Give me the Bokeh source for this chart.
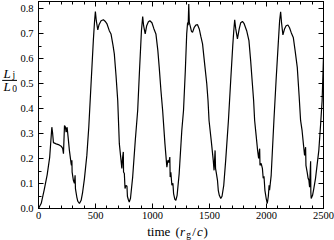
from bokeh.plotting import figure
from bokeh.layouts import row, column
from bokeh.models import (Range1d, SingleIntervalTicker, LinearAxis, PrintfTickFormatter,
                          Label, Arrow)
from bokeh.embed import file_html
from bokeh.resources import INLINE

# ---- data ----
time = [0, 24, 50, 76, 98, 117, 124, 131, 155, 181, 199, 212, 219, 228, 236, 242, 251, 260, 271,
        286, 289, 293, 295, 306, 315, 321, 324, 336, 345, 359, 374, 387, 403, 424, 441, 461, 481,
        492, 499, 507, 520, 531, 549, 569, 584, 601, 621, 636, 654, 665, 680, 695, 709, 724, 731,
        737, 744, 746, 753, 759, 767, 776, 780, 787, 796, 807, 826, 849, 870, 886, 903, 914, 922,
        936, 949, 964, 977, 995, 1012, 1030, 1047, 1059, 1074, 1089, 1109, 1126, 1135, 1144, 1152,
        1155, 1161, 1170, 1179, 1185, 1196, 1205, 1216, 1234, 1257, 1272, 1288, 1300, 1308, 1313,
        1318, 1323, 1330, 1342, 1351, 1365, 1380, 1395, 1410, 1424, 1439, 1459, 1476, 1487, 1496,
        1515, 1533, 1540, 1549, 1553, 1559, 1570, 1577, 1586, 1599, 1610, 1625, 1642, 1666, 1686,
        1704, 1713, 1721, 1730, 1745, 1761, 1774, 1789, 1804, 1826, 1846, 1861, 1876, 1887, 1896,
        1909, 1922, 1931, 1940, 1943, 1953, 1964, 1971, 1978, 1986, 1997, 2007, 2016, 2023, 2027,
        2041, 2065, 2084, 2102, 2115, 2124, 2132, 2144, 2159, 2172, 2188, 2202, 2217, 2235, 2251,
        2270, 2286, 2299, 2312, 2325, 2334, 2343, 2346, 2357, 2365, 2372, 2378, 2387, 2389, 2392,
        2404, 2415, 2430, 2459, 2474, 2488, 2500]
lj_l0 = [0.0, 0.021, 0.075, 0.135, 0.205, 0.326, 0.301, 0.264, 0.259, 0.255, 0.250, 0.241, 0.220,
         0.333, 0.327, 0.306, 0.326, 0.285, 0.233, 0.180, 0.173, 0.193, 0.146, 0.113, 0.101, 0.133,
         0.080, 0.046, 0.029, 0.020, 0.033, 0.065, 0.120, 0.213, 0.326, 0.500, 0.673, 0.753, 0.790,
         0.753, 0.716, 0.737, 0.753, 0.757, 0.751, 0.740, 0.713, 0.700, 0.653, 0.620, 0.533, 0.433,
         0.260, 0.193, 0.161, 0.201, 0.227, 0.146, 0.140, 0.080, 0.093, 0.089, 0.049, 0.037, 0.026,
         0.041, 0.126, 0.273, 0.393, 0.553, 0.713, 0.770, 0.733, 0.700, 0.733, 0.749, 0.753, 0.745,
         0.721, 0.700, 0.633, 0.566, 0.473, 0.393, 0.260, 0.166, 0.193, 0.185, 0.206, 0.126, 0.145,
         0.093, 0.101, 0.060, 0.037, 0.033, 0.053, 0.140, 0.313, 0.393, 0.553, 0.700, 0.746, 0.735,
         0.820, 0.745, 0.733, 0.710, 0.706, 0.725, 0.735, 0.737, 0.720, 0.690, 0.660, 0.573, 0.500,
         0.433, 0.353, 0.273, 0.193, 0.153, 0.233, 0.161, 0.145, 0.113, 0.073, 0.053, 0.040, 0.049,
         0.093, 0.193, 0.353, 0.513, 0.653, 0.713, 0.757, 0.721, 0.680, 0.721, 0.745, 0.750, 0.741,
         0.713, 0.673, 0.593, 0.500, 0.433, 0.353, 0.293, 0.233, 0.201, 0.240, 0.173, 0.181, 0.161,
         0.121, 0.129, 0.073, 0.041, 0.020, 0.049, 0.093, 0.073, 0.133, 0.353, 0.513, 0.653, 0.753,
         0.789, 0.745, 0.696, 0.721, 0.733, 0.736, 0.725, 0.705, 0.686, 0.633, 0.566, 0.453, 0.353,
         0.313, 0.253, 0.213, 0.246, 0.173, 0.145, 0.121, 0.113, 0.085, 0.189, 0.065, 0.040, 0.053,
         0.080, 0.121, 0.233, 0.333, 0.433, 0.609]

x_major = 500
x_minor_per_major = 5
y_major = 0.1
y_minor_per_major = 2
x_limits = (0, 2500)
y_limits = (0, 0.83)

FONT = "Liberation Serif"

LEFT_W = 17
MAIN_H = 223
BOTTOM_H = 240 - MAIN_H

p = figure(width=334 - LEFT_W, height=MAIN_H, output_backend="svg", toolbar_location=None,
           x_range=Range1d(*x_limits), y_range=Range1d(*y_limits),
           min_border_left=37 - LEFT_W, min_border_right=11, min_border_top=1,
           min_border_bottom=MAIN_H - 208,
           background_fill_color="white", border_fill_color="white")

p.line(time, lj_l0, line_color="black", line_width=1.2)

p.xgrid.visible = False
p.ygrid.visible = False
p.outline_line_color = "black"
p.outline_line_width = 1


def style_axis(ax, show_labels):
    ax.axis_line_color = "black"
    ax.axis_line_width = 1
    ax.major_tick_in = 5
    ax.major_tick_out = 0
    ax.minor_tick_in = 3
    ax.minor_tick_out = 0
    ax.major_tick_line_color = "black"
    ax.minor_tick_line_color = "black"
    if show_labels:
        ax.major_label_text_font = FONT
        ax.major_label_text_font_size = "10.5px"
        ax.major_label_text_color = "black"
        ax.major_label_standoff = 5
    else:
        ax.major_label_text_font_size = "1px"
        ax.major_label_text_color = None
        ax.major_label_standoff = 0


p.xaxis.ticker = SingleIntervalTicker(interval=x_major, num_minor_ticks=x_minor_per_major)
p.yaxis.ticker = SingleIntervalTicker(interval=y_major, num_minor_ticks=y_minor_per_major)
p.yaxis.formatter = PrintfTickFormatter(format="%.1f")
style_axis(p.xaxis[0], True)
style_axis(p.yaxis[0], True)
p.xaxis[0].major_label_standoff = 3

top = LinearAxis(ticker=SingleIntervalTicker(interval=x_major, num_minor_ticks=x_minor_per_major))
right = LinearAxis(ticker=SingleIntervalTicker(interval=y_major, num_minor_ticks=y_minor_per_major))
style_axis(top, False)
style_axis(right, False)
p.add_layout(top, "above")
p.add_layout(right, "right")


def label_panel(w, h):
    f = figure(width=w, height=h, output_backend="svg", toolbar_location=None,
               x_range=Range1d(0, w), y_range=Range1d(h, 0),
               x_axis_type=None, y_axis_type=None, min_border=0,
               background_fill_color="white", border_fill_color="white")
    f.outline_line_color = None
    f.xgrid.visible = False
    f.ygrid.visible = False
    return f


def lab(f, text, x, base, size, style="normal"):
    # Label is anchored at its middle; shift so that the baseline lands at `base`
    f.add_layout(Label(x=x, y=base - 0.34 * size, text=text, text_font=FONT,
                       text_font_size=f"{size}px", text_font_style=style,
                       text_color="black", text_align="left", text_baseline="middle"))


# y axis label: L_j / L_0 as a fraction
left = label_panel(LEFT_W, MAIN_H)
lab(left, "L", 3.0, 82.5, 13, "italic")
lab(left, "j", 12.0, 82.8, 9.5)
lab(left, "L", 3.0, 95.8, 13, "italic")
lab(left, "0", 11.8, 97.3, 9.5)
left.add_layout(Arrow(end=None, x_start=1.7, y_start=85, x_end=16.7, y_end=85,
                      line_color="black", line_width=1))

# x axis label: time (r_g/c)
bottom = label_panel(334, BOTTOM_H)
by = 235 - MAIN_H
lab(bottom, "time", 146.7, by, 13)
lab(bottom, "(", 175.0, by, 13)
lab(bottom, "r", 179.5, by, 13, "italic")
lab(bottom, "g", 185.8, by + 2.5, 9.5)
lab(bottom, "/", 191.8, by, 13)
lab(bottom, "c", 196.5, by, 13, "italic")
lab(bottom, ")", 203.0, by, 13)

layout = column(row(left, p, spacing=0), bottom, spacing=0)

html = file_html(layout, INLINE)
html = html.replace("</head>", "<style>body{margin:0;overflow:hidden}</style></head>", 1)
open("out.html", "w").write(html)
